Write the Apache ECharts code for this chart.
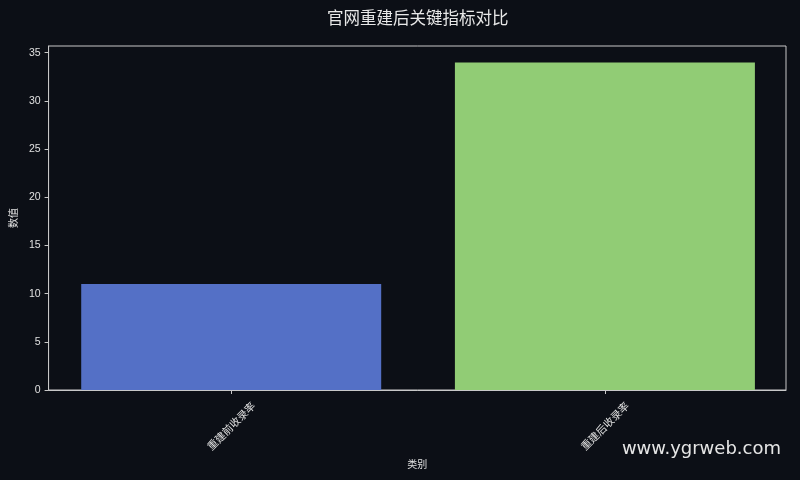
<!DOCTYPE html>
<html>
<head>
<meta charset="utf-8">
<script src="https://cdn.jsdelivr.net/npm/echarts@6/dist/echarts.min.js"></script>
<style>
html,body{margin:0;padding:0;background:#0c0f16;}
#c{width:800px;height:480px;}
</style>
</head>
<body>
<div id="c"></div>
<script>
const categories = ['重建前收录率', '重建后收录率'];
const values = [11, 34];
const barColors = ['#5470c6', '#91cc75'];
const yTicks = [0, 5, 10, 15, 20, 25, 30, 35];
const xPositions = [0, 1];

const chart = echarts.init(document.getElementById('c'));
const FONT = '"Liberation Sans", "Noto Sans CJK SC", sans-serif';
const CJK = '"Noto Sans CJK SC", sans-serif';
chart.setOption({
  backgroundColor: '#0c0f16',
  animation: false,
  title: {
    text: '官网重建后关键指标对比',
    left: 322, top: 4,
    textStyle: { color: '#e8e8e8', fontSize: 16.5, fontWeight: 'normal', fontFamily: CJK }
  },
  grid: { left: 47, right: 14, top: 46, bottom: 90, show: true, borderColor: '#c8c8c8', borderWidth: 1, backgroundColor: 'transparent' },
  xAxis: {
    type: 'value', min: -0.4887, max: 1.4846,
    name: '类别', nameLocation: 'middle', nameGap: 67,
    nameTextStyle: { color: '#e0e0e0', fontSize: 10, fontFamily: CJK },
    splitLine: { show: false },
    axisLine: { show: true, onZero: false, lineStyle: { color: '#c8c8c8' } },
    axisTick: { show: true, length: 4, lineStyle: { color: '#c8c8c8' }, customValues: xPositions },
    axisLabel: {
      rotate: 45, align: 'center', verticalAlign: 'middle', margin: 36,
      color: '#e0e0e0', fontSize: 10.5, fontFamily: CJK,
      customValues: xPositions,
      formatter: v => categories[Math.round(v)] || ''
    }
  },
  yAxis: {
    type: 'value', min: 0, max: 35.7, interval: 5,
    name: '数值', nameLocation: 'middle', nameGap: 28, nameRotate: 90,
    nameTextStyle: { color: '#e0e0e0', fontSize: 10, fontFamily: CJK },
    splitLine: { show: false },
    axisLine: { show: true, onZero: false, lineStyle: { color: '#c8c8c8' } },
    axisTick: { show: true, length: 4, lineStyle: { color: '#c8c8c8' }, customValues: yTicks },
    axisLabel: { color: '#e0e0e0', fontSize: 10.5, margin: 8, fontFamily: FONT, customValues: yTicks }
  },
  series: [{
    type: 'bar',
    data: values.map((v, i) => ({ value: [xPositions[i], v], itemStyle: { color: barColors[i] } })),
    barWidth: 300
  }],
  graphic: [{
    type: 'text', right: 19, top: 440,
    style: { text: 'www.ygrweb.com', fill: '#e6e6e6', font: '18px "DejaVu Sans", sans-serif' }
  }]
});
</script>
</body>
</html>
